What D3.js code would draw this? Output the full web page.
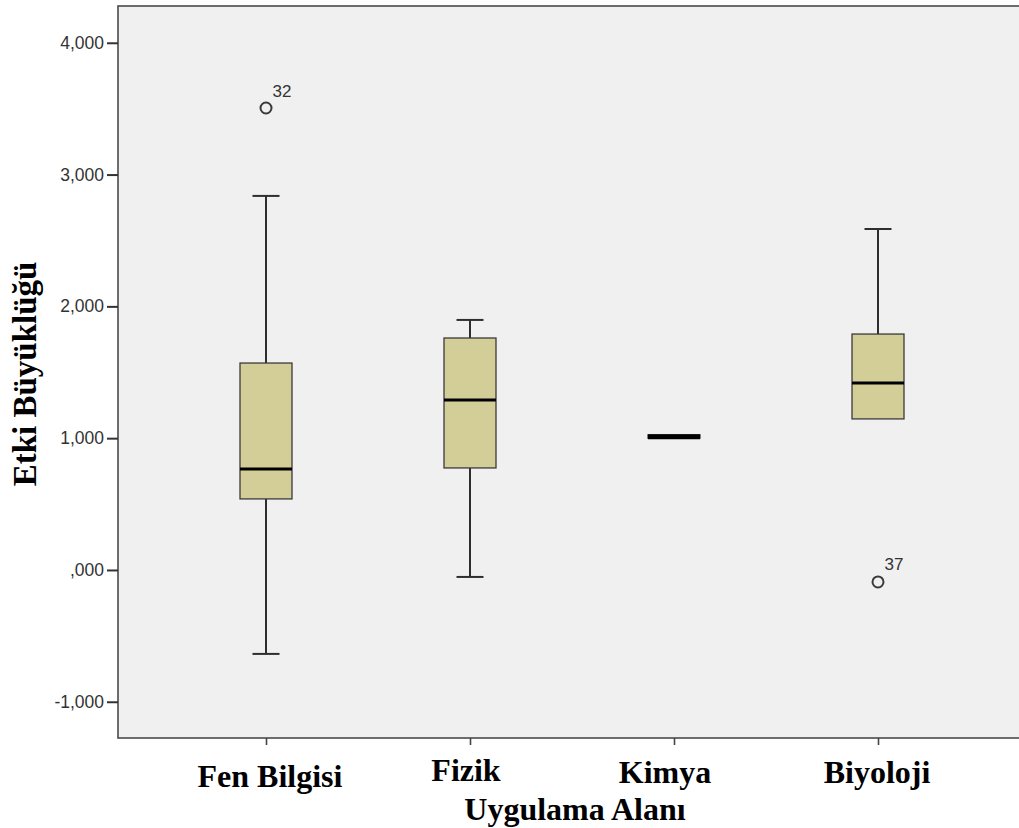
<!DOCTYPE html>
<html>
<head>
<meta charset="utf-8">
<script src="https://cdn.jsdelivr.net/npm/d3@7"></script>
<style>
  html, body { margin: 0; padding: 0; background: #ffffff; }
  svg { display: block; }
</style>
</head>
<body>
<svg id="chart" width="1019" height="828"></svg>
<script>
// Effect sizes by application area: five-number summaries plus labelled outliers
const categories = ["Fen Bilgisi", "Fizik", "Kimya", "Biyoloji"];
const whiskerLow  = [-0.637, -0.053, 1.000, 1.146];
const q1          = [0.539, 0.774, 1.000, 1.146];
const median      = [0.766, 1.290, 1.010, 1.419];
const q3          = [1.570, 1.760, 1.025, 1.790];
const whiskerHigh = [2.838, 1.897, 1.025, 2.587];
const outliers = [
  { cat: "Fen Bilgisi", value: 3.505, id: "32" },
  { cat: "Biyoloji", value: -0.091, id: "37" }
];
const yTicks = [-1, 0, 1, 2, 3, 4];

const svg = d3.select("#chart");
const plotLeft = 118, plotTop = 6, plotBottom = 738, plotRight = 1040;

const y = d3.scaleLinear().domain([-1.275, 4.279]).range([plotBottom, plotTop]);
const x = d3.scalePoint().domain(categories).range([266, 878]);

// plot panel
svg.append("rect")
  .attr("x", plotLeft).attr("y", plotTop)
  .attr("width", plotRight - plotLeft).attr("height", plotBottom - plotTop)
  .attr("fill", "#f0f0f0")
  .attr("stroke", "#4a4a4a").attr("stroke-width", 1.6);

// tick label format: 1,000 style with empty integer part for zero
const fmt = v => {
  if (v === 0) return ",000";
  const s = v < 0 ? "-" : "";
  return s + Math.abs(v) + ",000";
};

const yAxis = d3.axisLeft(y).tickValues(yTicks).tickFormat(fmt).tickSize(11).tickPadding(3);
const gy = svg.append("g").attr("transform", `translate(${plotLeft},0)`).call(yAxis);
gy.select(".domain").remove();
gy.selectAll(".tick line").attr("stroke", "#333").attr("stroke-width", 2);
gy.selectAll(".tick text")
  .attr("font-family", "Liberation Sans, Arial, sans-serif")
  .attr("font-size", 17.5).attr("fill", "#333");

const xAxis = d3.axisBottom(x).tickSize(7).tickFormat("");
const gx = svg.append("g").attr("transform", `translate(0,${plotBottom})`).call(xAxis);
gx.select(".domain").remove();
gx.selectAll(".tick line").attr("stroke", "#444").attr("stroke-width", 1.6);

const boxW = 52, capW = 27;
const stats = categories.map((c, i) => ({
  cat: c, lo: whiskerLow[i], q1: q1[i], med: median[i], q3: q3[i], hi: whiskerHigh[i]
}));

const g = svg.append("g");
stats.forEach(d => {
  const cx = x(d.cat);
  const grp = g.append("g");
  if (d.hi > d.q3) {
    grp.append("line").attr("x1", cx).attr("x2", cx).attr("y1", y(d.q3)).attr("y2", y(d.hi))
      .attr("stroke", "#2e2e2e").attr("stroke-width", 2);
    grp.append("line").attr("x1", cx - capW / 2).attr("x2", cx + capW / 2).attr("y1", y(d.hi)).attr("y2", y(d.hi))
      .attr("stroke", "#2e2e2e").attr("stroke-width", 2);
  }
  if (d.lo < d.q1) {
    grp.append("line").attr("x1", cx).attr("x2", cx).attr("y1", y(d.q1)).attr("y2", y(d.lo))
      .attr("stroke", "#2e2e2e").attr("stroke-width", 2);
    grp.append("line").attr("x1", cx - capW / 2).attr("x2", cx + capW / 2).attr("y1", y(d.lo)).attr("y2", y(d.lo))
      .attr("stroke", "#2e2e2e").attr("stroke-width", 2);
  }
  grp.append("rect")
    .attr("x", cx - boxW / 2).attr("y", y(d.q3))
    .attr("width", boxW).attr("height", Math.max(1, y(d.q1) - y(d.q3)))
    .attr("fill", "#d3ce97").attr("stroke", "#3a3a3a").attr("stroke-width", 1.3);
  grp.append("line").attr("x1", cx - boxW / 2).attr("x2", cx + boxW / 2)
    .attr("y1", y(d.med)).attr("y2", y(d.med))
    .attr("stroke", "#000").attr("stroke-width", d.q3 - d.q1 < 0.05 ? 5 : 3);
});

// outliers with case labels
outliers.forEach(o => {
  const cx = x(o.cat), cy = y(o.value);
  g.append("circle").attr("cx", cx).attr("cy", cy).attr("r", 5.5)
    .attr("fill", "none").attr("stroke", "#3a3a3a").attr("stroke-width", 2);
  g.append("text").attr("x", cx + 6.5).attr("y", cy - 11.5)
    .attr("font-family", "Liberation Sans, Arial, sans-serif")
    .attr("font-size", 17).attr("fill", "#333").text(o.id);
});

// category labels
const labelX    = { "Fen Bilgisi": 270, "Fizik": 466, "Kimya": 665, "Biyoloji": 877 };
const labelBase = { "Fen Bilgisi": 787, "Fizik": 781, "Kimya": 783, "Biyoloji": 783 };
svg.append("g").selectAll("text").data(categories).join("text")
  .attr("x", d => labelX[d]).attr("y", d => labelBase[d])
  .attr("text-anchor", "middle")
  .attr("font-family", "Liberation Serif, 'Times New Roman', serif")
  .attr("font-weight", "bold").attr("font-size", 32).attr("fill", "#000")
  .text(d => d);

// axis titles
svg.append("text").attr("x", 575).attr("y", 820).attr("text-anchor", "middle")
  .attr("font-family", "Liberation Serif, 'Times New Roman', serif")
  .attr("font-weight", "bold").attr("font-size", 32).attr("fill", "#000")
  .text("Uygulama Alanı");

svg.append("text")
  .attr("transform", "translate(36,374) rotate(-90)")
  .attr("text-anchor", "middle")
  .attr("font-family", "Liberation Serif, 'Times New Roman', serif")
  .attr("font-weight", "bold").attr("font-size", 33).attr("fill", "#000")
  .text("Etki Büyüklüğü");
</script>
</body>
</html>
